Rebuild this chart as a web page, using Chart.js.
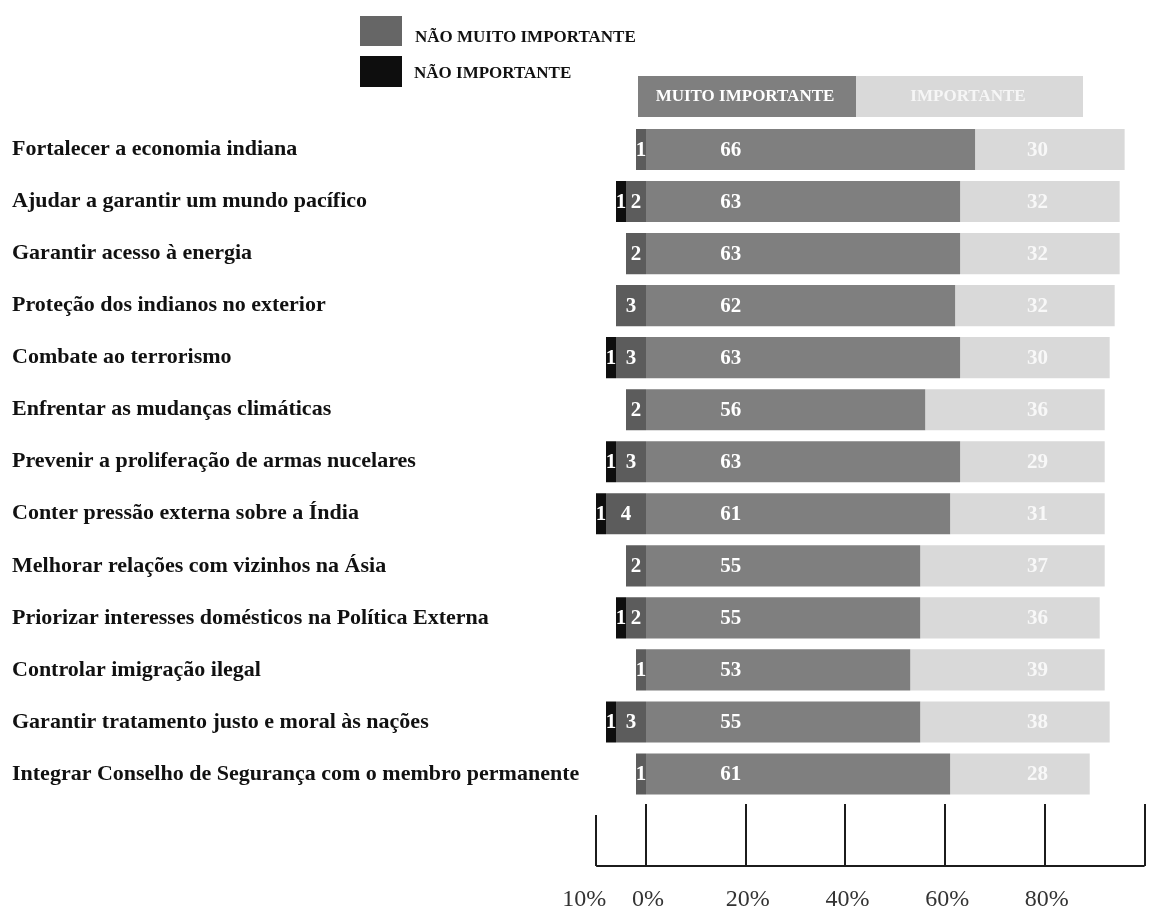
<!DOCTYPE html>
<html>
<head>
<meta charset="utf-8">
<script src="https://cdn.jsdelivr.net/npm/chart.js@4.4.1/dist/chart.umd.min.js"></script>
<style>
html,body{margin:0;padding:0;background:#ffffff;}
#wrap{position:relative;width:1158px;height:909px;}
</style>
</head>
<body>
<div id="wrap"><canvas id="c" width="1158" height="909"></canvas></div>
<script>
// ---- data ----
const categories = [
  'Fortalecer a economia indiana',
  'Ajudar a garantir um mundo pacífico',
  'Garantir acesso à energia',
  'Proteção dos indianos no exterior',
  'Combate ao terrorismo',
  'Enfrentar as mudanças climáticas',
  'Prevenir a proliferação de armas nucelares',
  'Conter pressão externa sobre a Índia',
  'Melhorar relações com vizinhos na Ásia',
  'Priorizar interesses domésticos na Política Externa',
  'Controlar imigração ilegal',
  'Garantir tratamento justo e moral às nações',
  'Integrar Conselho de Segurança com o membro permanente'
];
const naoImportante      = [0, 1, 0, 0, 1, 0, 1, 1, 0, 1, 0, 1, 0];
const naoMuitoImportante = [1, 2, 2, 3, 3, 2, 3, 4, 2, 2, 1, 3, 1];
const muitoImportante    = [66, 63, 63, 62, 63, 56, 63, 61, 55, 55, 53, 55, 61];
const importante         = [30, 32, 32, 32, 30, 36, 29, 31, 37, 36, 39, 38, 28];
const axisTickValues = [-10, 0, 20, 40, 60, 80, 100];
const axisTickLabels = ['10%', '0%', '20%', '40%', '60%', '80%', ''];
const seriesNames = ['NÃO MUITO IMPORTANTE', 'NÃO IMPORTANTE', 'MUITO IMPORTANTE', 'IMPORTANTE'];

// ---- styles ----
const SERIF = '"Liberation Serif", "DejaVu Serif", serif';
const COLORS = ['#5c5c5c', '#0e0e0e', '#7f7f7f', '#d9d9d9'];

const headerPlugin = {
  id: 'headerPlugin',
  afterDraw(chart) {
    const ctx = chart.ctx;
    ctx.save();
    // legend (top-left)
    ctx.fillStyle = '#666666';
    ctx.fillRect(360, 16, 42, 30);
    ctx.fillStyle = COLORS[1];
    ctx.fillRect(360, 56, 42, 31);
    ctx.fillStyle = '#111111';
    ctx.font = 'bold 17px ' + SERIF;
    ctx.textAlign = 'left';
    ctx.textBaseline = 'middle';
    ctx.fillText(seriesNames[0], 415, 38);
    ctx.fillText(seriesNames[1], 414, 74);
    // column header boxes
    ctx.fillStyle = COLORS[2];
    ctx.fillRect(638, 76, 218, 41);
    ctx.fillStyle = COLORS[3];
    ctx.fillRect(856, 76, 227, 41);
    ctx.fillStyle = '#ffffff';
    ctx.textAlign = 'center';
    ctx.fillText(seriesNames[2], 745, 97);
    ctx.fillStyle = '#f6f6f6';
    ctx.fillText(seriesNames[3], 968, 97);
    ctx.restore();
  }
};

const bracketAxisPlugin = {
  id: 'bracketAxis',
  afterDraw(chart) {
    const ctx = chart.ctx;
    const xs = chart.scales.x;
    const baseY = 866;
    ctx.save();
    ctx.strokeStyle = '#1c1c1c';
    ctx.lineWidth = 2;
    ctx.beginPath();
    ctx.moveTo(xs.getPixelForValue(axisTickValues[0]), baseY);
    ctx.lineTo(xs.getPixelForValue(axisTickValues[axisTickValues.length - 1]), baseY);
    axisTickValues.forEach((v, i) => {
      const px = Math.round(xs.getPixelForValue(v));
      ctx.moveTo(px, baseY);
      ctx.lineTo(px, i === 0 ? 815 : 804);
    });
    ctx.stroke();
    ctx.fillStyle = '#333333';
    ctx.font = '24px ' + SERIF;
    ctx.textAlign = 'center';
    ctx.textBaseline = 'alphabetic';
    axisTickValues.forEach((v, i) => {
      ctx.fillText(axisTickLabels[i], xs.getPixelForValue(v) + (i === 0 ? -12 : 2), 906);
    });
    ctx.restore();
  }
};

const valueLabelPlugin = {
  id: 'valueLabels',
  afterDatasetsDraw(chart) {
    const ctx = chart.ctx;
    const xs = chart.scales.x;
    ctx.save();
    ctx.font = 'bold 21px ' + SERIF;
    ctx.textBaseline = 'middle';
    const sources = [naoMuitoImportante, naoImportante, muitoImportante, importante];
    sources.forEach((arr, di) => {
      const meta = chart.getDatasetMeta(di);
      meta.data.forEach((bar, j) => {
        const v = arr[j];
        if (!v) return;
        const y = bar.y + 1;
        const left = Math.min(bar.x, bar.base);
        const right = Math.max(bar.x, bar.base);
        ctx.textAlign = 'center';
        if (di === 0 || di === 1) {
          ctx.fillStyle = '#ffffff';
          ctx.fillText(String(v), (left + right) / 2, y);
        } else if (di === 2) {
          ctx.fillStyle = '#ffffff';
          ctx.fillText(String(v), xs.getPixelForValue(17), y);
        } else {
          ctx.fillStyle = '#f8f8f8';
          ctx.fillText(String(v), xs.getPixelForValue(78.5), y);
        }
      });
    });
    ctx.restore();
  }
};

new Chart(document.getElementById('c'), {
  type: 'bar',
  data: {
    labels: categories,
    datasets: [
      { label: seriesNames[0], data: naoMuitoImportante.map(v => -v), backgroundColor: COLORS[0], stack: 's', xAxisID: 'xn' },
      { label: seriesNames[1], data: naoImportante.map(v => v ? -v : null), backgroundColor: COLORS[1], stack: 's', xAxisID: 'xn' },
      { label: seriesNames[2], data: muitoImportante, backgroundColor: COLORS[2], stack: 's', xAxisID: 'x' },
      { label: seriesNames[3], data: importante, backgroundColor: COLORS[3], stack: 's', xAxisID: 'x' }
    ]
  },
  options: {
    indexAxis: 'y',
    responsive: false,
    animation: false,
    devicePixelRatio: 1,
    datasets: { bar: { categoryPercentage: 1.0, barPercentage: 0.79, borderWidth: 0 } },
    layout: { padding: { top: 123.5, bottom: 109, left: 12, right: 0 } },
    plugins: { legend: { display: false }, tooltip: { enabled: false } },
    scales: {
      x: {
        type: 'linear',
        stacked: true,
        min: -12.234,
        max: 102.69,
        display: false
      },
      xn: {
        type: 'linear',
        stacked: true,
        min: -6.1,
        max: 51.2,
        display: false
      },
      y: {
        stacked: true,
        grid: { display: false, drawTicks: false },
        border: { display: false },
        ticks: {
          crossAlign: 'far',
          color: '#111111',
          font: { family: SERIF, size: 22, weight: 'bold' },
          padding: 0
        },
        afterFit(scale) { scale.width = 573; }
      }
    }
  },
  plugins: [headerPlugin, bracketAxisPlugin, valueLabelPlugin]
});
</script>
</body>
</html>
